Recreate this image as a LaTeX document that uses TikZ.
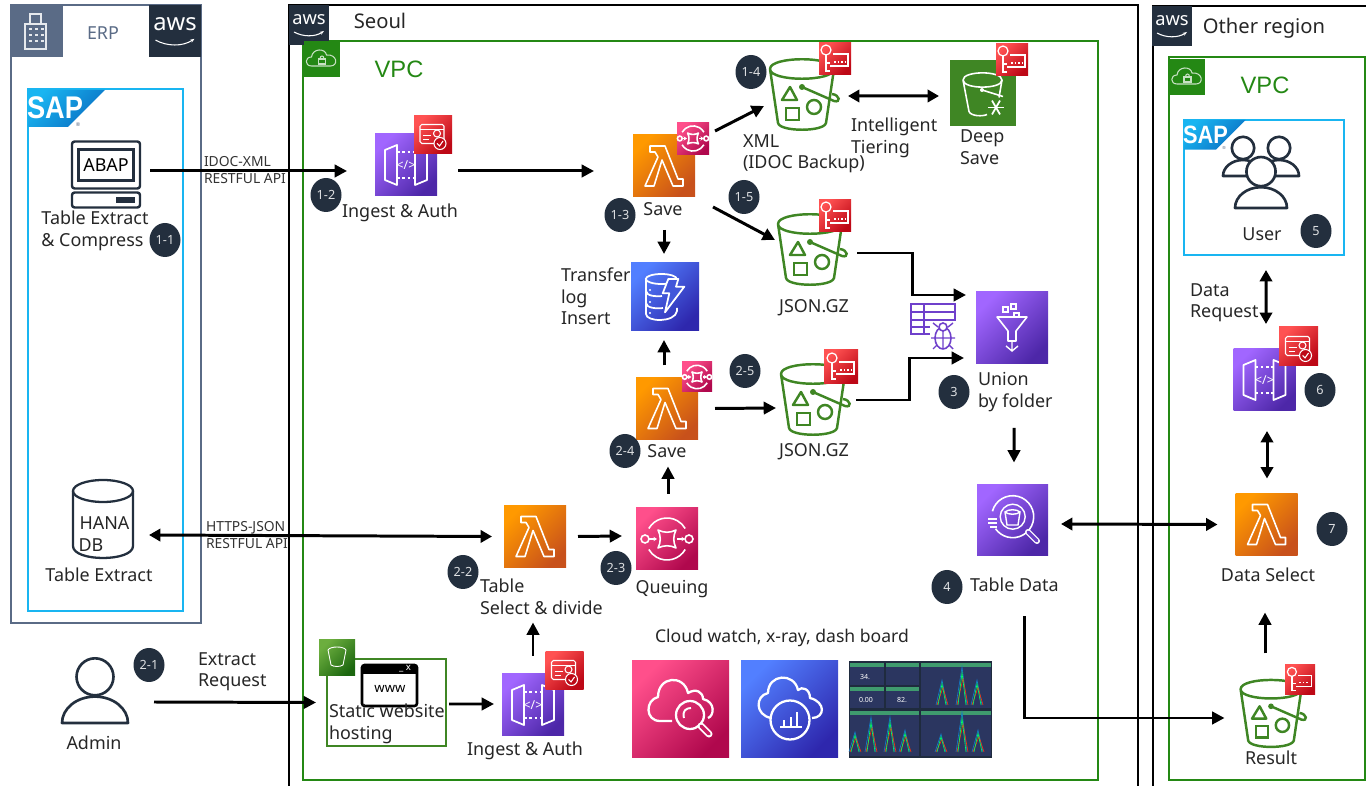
\documentclass[tikz,border=0pt]{standalone}
\usepackage{fontspec}
\setmainfont{Noto Sans}
\newfontfamily\arialfont{Liberation Sans}
\usetikzlibrary{arrows.meta,shapes.geometric}

\definecolor{ink}{HTML}{232F3E}
\definecolor{slate}{HTML}{5A6B86}
\definecolor{sapblue}{HTML}{19B5F1}
\definecolor{sapdark}{HTML}{0A6FC2}
\definecolor{vpcgreen}{HTML}{248814}
\definecolor{s3green}{HTML}{3F8624}
\definecolor{txtgrey}{HTML}{333333}
\definecolor{lamdark}{HTML}{C8511B}
\definecolor{lamlight}{HTML}{FF9900}
\definecolor{purpdark}{HTML}{4D27A8}
\definecolor{purplight}{HTML}{A166FF}
\definecolor{pinkdark}{HTML}{B0084D}
\definecolor{pinklight}{HTML}{FF4F8B}
\definecolor{bluedark}{HTML}{2E27AD}
\definecolor{bluelight}{HTML}{527FFF}
\definecolor{reddark}{HTML}{BD0816}
\definecolor{redlight}{HTML}{FF5252}
\definecolor{grdark}{HTML}{1B660F}
\definecolor{grlight}{HTML}{6CAE3E}
\definecolor{dashbg}{HTML}{1F2B3E}
\definecolor{dashpanel}{HTML}{2B3660}
\definecolor{dashhead}{HTML}{3F9B6E}

\tikzset{
	iconsize/.style={minimum size=#1*0.02cm, inner sep=0, outer sep=0},
	lambdabox/.style={iconsize=62, bottom color=lamdark, top color=lamlight, shading angle=45, draw=none},
	purplebox/.style={iconsize=62, bottom color=purpdark, top color=purplight, shading angle=45, draw=none},
	pinkbox/.style={iconsize=62, bottom color=pinkdark, top color=pinklight, shading angle=45, draw=none},
	bluebox/.style={iconsize=62, bottom color=bluedark, top color=bluelight, shading angle=45, draw=none},
	redbox/.style={iconsize=34, bottom color=reddark, top color=redlight, shading angle=45, draw=none},
	greenbox/.style={iconsize=36, fill=vpcgreen, draw=none},
	awsbox/.style={iconsize=40, fill=ink, draw=none},
	ghost/.style={iconsize=68, draw=none},
	lbl/.style={font=\fontsize{10.2}{12.5}\selectfont, inner sep=0, outer sep=0, text=black!85, align=left, yshift=-1pt},
	biglbl/.style={lbl, font=\fontsize{11.5}{13}\selectfont},
	smalllbl/.style={font=\fontsize{7.9}{9.6}\selectfont, inner sep=0, outer sep=0, text=txtgrey, align=left, anchor=west},
	vpclbl/.style={font=\arialfont\fontsize{13.5}{15}\selectfont, inner sep=0, outer sep=0, text=vpcgreen},
	badge/.style={ellipse, fill=ink, text=white!85!ink, minimum width=31*0.02cm, minimum height=34*0.02cm,
		inner sep=0, outer sep=0, font=\fontsize{7.2}{8}\selectfont},
	arrow/.style={line width=1.7pt, -{Triangle[length=7pt,width=7pt]}},
	dblarrow/.style={line width=1.7pt, {Triangle[length=6.5pt,width=7pt]}-{Triangle[length=6.5pt,width=7pt]}},
	lambdaglyph/.pic={
		\draw[white, line width=.9pt, line join=round] (-14,-20) -- (1,-20) -- (14,13) -- (19,13) -- (19,20) -- (9,20)
			-- (-2,-6) -- (-10,20) -- (-19,20) -- (-6,-9) -- (-9,-14) -- (-14,-14) -- cycle;
	},
	apiglyph/.pic={
		\draw[white, line width=1pt, line join=round] (-21,-15) -- (-9,-20) -- (-9,20) -- (-21,15) -- cycle;
		\draw[white, line width=1pt, line join=round] (21,-15) -- (9,-20) -- (9,20) -- (21,15) -- cycle;
		\draw[white, line width=.9pt, dash pattern=on 1.5pt off 1.5pt] (-9,-13) -- (9,-13) (-9,13) -- (9,13);
		\node[text=white, font=\bfseries\fontsize{7}{7}\selectfont, inner sep=0] at (0,0) {</>};
	},
	dynamoglyph/.pic={
		\draw[white, line width=1pt] (-3.7,-18) ellipse[x radius=15.5, y radius=5];
		\draw[white, line width=1pt] (-19,-18) -- (-19,17) .. controls (-19,25) and (10,26) .. (12,14) -- (12,11);
		\draw[white, line width=1pt] (-19,-6) .. controls (-19,-1) and (-8,0) .. (-3,-1);
		\draw[white, line width=1pt] (-19,6) .. controls (-19,11) and (-8,12) .. (-2,11);
		\fill[white] (-15,-7) circle[radius=1.2] (-15,5) circle[radius=1.2] (-15,16) circle[radius=1.2];
		\draw[white, line width=1pt, fill=bluedark!45!bluelight, line join=round] (3.3,-18) -- (13.3,-18) -- (11,-10.3) -- (19.3,-10.3)
			-- (0,15.3) -- (4.3,-3.7) -- (-2.3,-3.7) -- cycle;
	},
	sqsglyph/.pic={
		\draw[white, line width=.9pt] (-150:21) arc[start angle=-150, end angle=-30, radius=21];
		\draw[white, line width=.9pt] (30:21) arc[start angle=30, end angle=150, radius=21];
		\draw[white, line width=.9pt, line join=round] (-9,-9) .. controls (-3,-6) and (3,-6) .. (9,-9)
			.. controls (6,-3) and (6,3) .. (9,9) .. controls (3,6) and (-3,6) .. (-9,9)
			.. controls (-6,3) and (-6,-3) .. (-9,-9) -- cycle;
		\draw[white, line width=.9pt] (-22,0) circle[radius=4] (22,0) circle[radius=4];
		\draw[white, line width=.8pt, -{Stealth[length=2pt,width=2.5pt]}] (-18,0) -- (-10,0);
		\draw[white, line width=.8pt, -{Stealth[length=2pt,width=2.5pt]}] (10,0) -- (18,0);
	},
	bucketglyph/.pic={
		\draw[s3green, line width=1.4pt, line join=round] (-32,-24) .. controls (-32,-11) and (32,-11) .. (32,-24)
			.. controls (32,-37) and (-32,-37) .. (-32,-24) -- (-24,30) .. controls (-22,39) and (22,39) .. (24,30) -- (32,-24);
		\draw[s3green, line width=1.4pt] (0,-6) -- (32,8) .. controls (39,10) and (38,2) .. (30,1);
		\fill[s3green] (0,-6) circle[radius=3];
		\draw[s3green, line width=1.4pt, line join=round] (-12,-6) -- (-20,7) -- (-5,7) -- cycle;
		\draw[s3green, line width=1.4pt] (-16,15) rectangle (-3,27);
		\draw[s3green, line width=1.4pt] (12,14) circle[radius=7];
	},
	glacierglyph/.pic={
		\draw[white, line width=.9pt, line join=round] (-20,-13.5) .. controls (-20,-4) and (19,-4) .. (19,-13.5)
			.. controls (19,-23) and (-20,-23) .. (-20,-13.5) -- (-14,18) .. controls (-12,23) and (0,23) .. (4,21);
		\draw[white, line width=.9pt] (19,-13.5) -- (16,4);
		\draw[white, line width=.9pt] (-1,-3.5) -- (20,3);
		\fill[white] (-1,-3.5) circle[radius=2];
		\foreach \ang in {0,60,120} {
			\draw[white, line width=1pt] (13,14) ++(\ang:8) -- ++(\ang+180:16);
		}
	},
	cardglyph/.pic={
		\draw[white, line width=.6pt, rounded corners=1] (-13,-10) rectangle (11,9);
		\draw[white, line width=.6pt] (-13,-5) -- (11,-5);
		\draw[white, line width=.6pt] (-10,1) -- (-2,1) (-10,5) -- (-4,5);
		\draw[white, line width=.6pt] (4,-1) circle[radius=3.5];
		\draw[white, line width=.6pt, fill=reddark] (7,9) circle[radius=6];
		\draw[white, line width=.6pt] (4,9) -- (6.5,11.5) -- (10,6.5);
	},
	keyglyph/.pic={
		\draw[white, line width=.6pt] (-2,-5) -- (13,-5) -- (13,7) -- (-5,7);
		\draw[white, line width=.7pt] (-9,-9) circle[radius=5];
		\draw[white, line width=.7pt] (-9,-4) -- (-9,12) -- (-5,12) (-9,4) -- (-5,4);
		\draw[white, line width=.6pt, dash pattern=on 1pt off 1pt] (-1,3) -- (10,3);
	},
	awsglyph/.pic={
		\node[text=white, font=\fontsize{10.4}{11}\selectfont, inner sep=0, transform shape] at (0,-5) {aws};
		\draw[white, line width=.6pt, -{Stealth[length=2.5pt]}] (-15,7) .. controls (-6,12) and (6,12) .. (15,6);
	},
	vpcglyph/.pic={
		\draw[white!75!vpcgreen, line width=.6pt, line join=round] (-10,7) .. controls (-17,7) and (-17,-2) .. (-10,-2)
			.. controls (-9,-11) and (4,-11) .. (5,-4) .. controls (16,-5) and (17,7) .. (9,7) -- cycle;
		\draw[white!75!vpcgreen, line width=.6pt] (-3,0) rectangle (4,5);
		\draw[white!75!vpcgreen, line width=.6pt] (-1.5,0) .. controls (-1.5,-4) and (2.5,-4) .. (2.5,0);
	},
	saplogo/.pic={
		\shade[bottom color=sapdark, top color=sapblue, shading angle=45] (0,0) -- (77,0) -- (40,37) -- (0,37) -- cycle;
		\node[text=white, font=\arialfont\bfseries\fontsize{15.5}{16}\selectfont, inner sep=0, yscale=1.15, transform shape] at (27,18) {SAP};
		\node[text=slate, font=\fontsize{3}{3}\selectfont, inner sep=0, transform shape] at (50,35) {®};
	},
	personglyph/.pic={
		\draw[ink, line width=1.5pt, fill=white, line join=round] (-#1,#1) arc[start angle=180, end angle=360, x radius=#1, y radius=.8*#1] -- cycle;
		\draw[ink, line width=1.5pt, fill=white] (0,-.4*#1) circle[radius=.56*#1];
	},
}

\begin{document}
\begin{tikzpicture}[x=0.02cm, y=-0.02cm]
	\useasboundingbox (0,0) rectangle (1366,786);

	% Regions
	\node[draw=slate, line width=1.2pt, minimum width=190*0.02cm, minimum height=618*0.02cm, inner sep=0, outer sep=0] (erpBox) at (106,314) {};
	\node[draw=sapblue, line width=1.2pt, minimum width=155*0.02cm, minimum height=522*0.02cm, inner sep=0, outer sep=0] (sapBox) at (105.5,350) {};
	\draw[black, line width=1.2pt] (289,786) -- (289,5) -- (1138,5) -- (1138,786);
	\draw[black, line width=1.2pt] (1366,6) -- (1153,6) -- (1153,786);
	\node[draw=vpcgreen, line width=1.2pt, minimum width=795*0.02cm, minimum height=739*0.02cm, inner sep=0, outer sep=0] (vpcSeoul) at (700.5,410.5) {};
	\node[draw=vpcgreen, line width=1.2pt, minimum width=196*0.02cm, minimum height=723*0.02cm, inner sep=0, outer sep=0] (vpcOther) at (1267,418.5) {};
	\node[draw=sapblue, line width=1.2pt, minimum width=160*0.02cm, minimum height=135*0.02cm, inner sep=0, outer sep=0] (sapUser) at (1264,187.5) {};

	% Corner tags
	\node[iconsize=52, fill=slate] (erpTag) at (36.5,31) {};
	\draw[white!85!slate, line width=.6pt] (25,49) rectangle (46,24) (30,24) -- (30,14) -- (41,14) -- (41,24);
	\foreach \yy in {29,35,41} { \draw[white!85!slate, line width=.9pt, dash pattern=on 1.5pt off 2pt] (29,\yy) -- (44,\yy); }
	\node[lbl, text=slate] (erpLbl) at (103,31.5) {ERP};
	\node[awsbox, iconsize=52] (awsErp) at (175,31) {};
	\pic[scale=1.3] at (awsErp) {awsglyph};
	\node[awsbox] (awsSeoul) at (309,25) {};
	\pic at (awsSeoul) {awsglyph};
	\node[biglbl] (seoulLbl) at (380,19) {Seoul};
	\node[awsbox] (awsOther) at (1172,26) {};
	\pic at (awsOther) {awsglyph};
	\node[biglbl] (otherLbl) at (1264,26) {Other region};
	\node[greenbox] (vpcTagA) at (321.5,59) {};
	\pic at (vpcTagA) {vpcglyph};
	\node[vpclbl] (vpcLblA) at (399,69) {VPC};
	\node[greenbox] (vpcTagB) at (1187,77) {};
	\pic at (vpcTagB) {vpcglyph};
	\node[vpclbl] (vpcLblB) at (1265,85) {VPC};
	\pic at (28,90) {saplogo};
	\pic[scale=.8] at (1184,120) {saplogo};

	% ERP side
	\node[draw=ink, line width=1.4pt, rounded corners=1.5pt, minimum width=68*0.02cm, minimum height=47*0.02cm, inner sep=0, outer sep=0] (abapMon) at (106,165) {};
	\node[draw=ink, line width=1.2pt, minimum width=55*0.02cm, minimum height=31*0.02cm, inner sep=0, outer sep=0, font=\fontsize{10.2}{11}\selectfont] (abapTxt) at (106,165) {ABAP};
	\node[draw=ink, line width=1.4pt, rounded corners=1.5pt, minimum width=68*0.02cm, minimum height=15*0.02cm, inner sep=0, outer sep=0] (abapBase) at (106,200) {};
	\fill[ink] (116,197) rectangle (135,203);
	\node[lbl] (abapLbl) at (95,229) {Table Extract\\\& Compress};
	\node[minimum width=60*0.02cm, minimum height=78*0.02cm, inner sep=0, outer sep=0] (hana) at (103,519) {};
	\draw[ink, line width=1.3pt] (103,491) ellipse[x radius=30, y radius=11];
	\draw[ink, line width=1.3pt] (73,491) -- (73,546) .. controls (73,562) and (133,562) .. (133,546) -- (133,491);
	\node[lbl] (hanaTxt) at (104.5,521) {HANA};
	\node[lbl] (dbTxt) at (91,543.5) {DB};
	\node[lbl] (hanaLbl) at (99,573.5) {Table Extract};
	\node[ghost] (admin) at (95,690) {};
	\pic[scale=1] at (95,690) {personglyph=33};
	\node[lbl] (adminLbl) at (94,741.5) {Admin};
	\node[smalllbl] (idocLbl) at (204,170) {IDOC-XML\\RESTFUL API};
	\node[smalllbl] (httpsLbl) at (206,535) {HTTPS-JSON\\RESTFUL API};
	\node[lbl, anchor=west] (extractLbl) at (198,670) {Extract\\Request};

	% Seoul, line 1
	\node[purplebox] (ingestA) at (406,165) {};
	\pic at (ingestA) {apiglyph};
	\node[redbox, iconsize=38] (ingestAuth) at (433,134.5) {};
	\pic at (ingestAuth) {cardglyph};
	\node[lbl] (ingestALbl) at (400,211) {Ingest \& Auth};
	\node[lambdabox] (saveA) at (664,166) {};
	\pic at (saveA) {lambdaglyph};
	\node[pinkbox, iconsize=32] (saveAq) at (693,138.5) {};
	\pic[scale=.6] at (saveAq) {sqsglyph};
	\node[lbl] (saveALbl) at (663,207) {Save};
	\node[bluebox, iconsize=68] (dynamo) at (665,297) {};
	\pic at (dynamo) {dynamoglyph};
	\node[lbl, anchor=west] (dynamoLbl) at (561,294.5) {Transfer\\log\\Insert};
	\node[ghost] (bkXml) at (802,93) {};
	\pic at (bkXml) {bucketglyph};
	\node[redbox, iconsize=32] (keyXml) at (835,59) {};
	\pic at (keyXml) {keyglyph};
	\node[lbl, anchor=west] (xmlLbl) at (743,152) {XML\\(IDOC Backup)};
	\node[lbl, anchor=west] (tierLbl) at (851,136) {Intelligent\\Tiering};
	\node[iconsize=66, fill=s3green] (glacier) at (983,93.5) {};
	\pic at (glacier) {glacierglyph};
	\node[redbox, iconsize=32] (keyDeep) at (1012,60) {};
	\pic at (keyDeep) {keyglyph};
	\node[lbl, anchor=west] (deepLbl) at (960,145.5) {Deep\\Save};
	\node[ghost] (bkJsonA) at (810,248) {};
	\pic at (bkJsonA) {bucketglyph};
	\node[redbox, iconsize=32] (keyJsonA) at (835,216) {};
	\pic at (keyJsonA) {keyglyph};
	\node[lbl] (jsonALbl) at (814,306) {JSON.GZ};

	% Seoul, line 2
	\node[lambdabox] (saveB) at (667,408.5) {};
	\pic at (saveB) {lambdaglyph};
	\node[pinkbox, iconsize=30] (saveBq) at (697,377) {};
	\pic[scale=.56] at (saveBq) {sqsglyph};
	\node[lbl] (saveBLbl) at (667,449.5) {Save};
	\node[ghost] (bkJsonB) at (813,398) {};
	\pic at (bkJsonB) {bucketglyph};
	\node[redbox] (keyJsonB) at (841,367) {};
	\pic at (keyJsonB) {keyglyph};
	\node[lbl] (jsonBLbl) at (814,450) {JSON.GZ};
	\node[pinkbox] (sqs) at (667,539) {};
	\pic at (sqs) {sqsglyph};
	\node[lbl] (sqsLbl) at (672,587) {Queuing};
	\node[lambdabox] (tableLam) at (535,536.5) {};
	\pic at (tableLam) {lambdaglyph};
	\node[lbl, anchor=west] (tableLbl) at (480,595) {Table\\Select \& divide};
	\node[purplebox] (ingestB) at (533,705) {};
	\pic at (ingestB) {apiglyph};
	\node[redbox, iconsize=38] (ingestBAuth) at (564.5,670.5) {};
	\pic at (ingestBAuth) {cardglyph};
	\node[lbl] (ingestBLbl) at (525,749) {Ingest \& Auth};
	\node[draw=s3green, line width=1.2pt, minimum width=119*0.02cm, minimum height=87*0.02cm, inner sep=0, outer sep=0] (webBox) at (386.5,702.5) {};
	\node[iconsize=36, bottom color=grdark, top color=grlight, shading angle=45] (webTag) at (337,658) {};
	\draw[white, line width=.5pt] (328,650) .. controls (330,646) and (344,646) .. (346,650) -- (343,665) .. controls (340,667) and (334,667) .. (331,665) -- cycle;
	\node[draw=black, fill=white, line width=1.5pt, rounded corners=1.5pt, minimum width=55*0.02cm, minimum height=41*0.02cm, inner sep=0, outer sep=0] (wwwBox) at (389.5,685.5) {};
	\fill[black] (362,665) rectangle (417,674);
	\node[text=white, font=\bfseries\fontsize{5.5}{5.5}\selectfont, inner sep=0] (wwwClose) at (405,669) {\_ x};
	\node[font=\bfseries\fontsize{7.5}{8}\selectfont, inner sep=0] (wwwTxt) at (390,689) {www};
	\node[lbl, anchor=west] (webLbl) at (329,722) {Static website\\hosting};

	% Union and table data
	\node[purplebox, iconsize=72] (glue) at (1012,328) {};
	\draw[white, line width=.9pt, line join=round] (997,317) -- (1027,317) -- (1016,331) -- (1016,341) -- (1008,341) -- (1008,331) -- cycle;
	\draw[white, line width=.8pt] (1012,341) -- (1012,351) (1006,346) -- (1012,351) -- (1018,346);
	\draw[white, line width=.7pt] (1003,307) rectangle (1008,312) (1011,304) rectangle (1016,309) (1014,313) rectangle (1019,317);
	\node[lbl, anchor=west] (glueLbl) at (978,390) {Union\\by folder};
	\node[iconsize=46] (crawler) at (934,327) {};
	\draw[purpdark!60!purplight, line width=.8pt] (911,304) rectangle (955,312) (911,304) -- (911,334) -- (930,334) (911,320) -- (955,320) -- (955,312) (911,327) -- (930,327) (924,304) -- (924,334);
	\draw[purpdark!60!purplight, line width=.9pt, fill=white] (943,338) ellipse[x radius=8, y radius=11];
	\draw[purpdark!60!purplight, line width=.9pt, fill=white] (943,327) circle[radius=4];
	\draw[purpdark!60!purplight, line width=.8pt] (943,331) -- (943,349) (933,323) -- (938,327) (953,323) -- (948,327) (931,338) -- (955,338) (933,349) -- (937,345) (953,349) -- (949,345);
	\node[purplebox, iconsize=71] (athena) at (1012.5,520) {};
	\draw[white, line width=.9pt] (1012.7,516.7) ++(-165:21) arc[start angle=-165, end angle=145, radius=21];
	\draw[white, line width=.8pt] (1012.7,516.7) circle[radius=12.5];
	\draw[white, line width=.8pt] (1005,512) .. controls (1008,509) and (1017,509) .. (1020,512) -- (1018,525) -- (1007,525) -- cycle (1005,512) .. controls (1008,515) and (1017,515) .. (1020,512);
	\draw[white, line width=.7pt] (988,519) -- (997,519) (988,523) -- (997,523) (990,527) -- (997,527);
	\draw[white, line width=3.4pt, line cap=round] (1028,532) -- (1037,541);
	\draw[purpdark!65!purplight, line width=1.9pt, line cap=round] (1028,532) -- (1037,541);
	\node[lbl, anchor=west] (athenaLbl) at (970,583.5) {Table Data};

	% Cloud watch row
	\node[lbl, font=\fontsize{10}{12.5}\selectfont] (watchLbl) at (782,636) {Cloud watch, x-ray, dash board};
	\node[pinkbox, iconsize=97] (watch) at (680.5,709) {};
	\draw[white, line width=1.3pt, line join=round] (672,721) -- (660,721) .. controls (645,721) and (645,700) .. (658,697)
		.. controls (658,676) and (684,674) .. (688,693) .. controls (696,688) and (703,692) .. (703,699) .. controls (716,702) and (714,716) .. (708,718);
	\draw[white, line width=1.3pt] (690,715) circle[radius=14];
	\draw[white, line width=1.1pt] (684,718) .. controls (682,711) and (686,708) .. (691,708);
	\draw[white, line width=4pt, line cap=round] (701,726) -- (709,734);
	\draw[pinkdark!70!pinklight, line width=2pt, line cap=round] (701,726) -- (709,734);
	\node[bluebox, iconsize=97] (xray) at (789.5,709) {};
	\draw[white, line width=1.3pt, line join=round] (771,718) .. controls (755,715) and (755,696) .. (768,693)
		.. controls (768,674) and (794,672) .. (798,690) .. controls (802,686) and (810,689) .. (810,698) .. controls (826,702) and (825,718) .. (812,718);
	\draw[white, line width=1.3pt] (790,720) circle[radius=19.5];
	\draw[white, line width=1.2pt] (780,727) -- (802,727) (784,727) -- (784,720) (791,727) -- (791,717) (797,727) -- (797,712);
	\node[draw=none, fill=dashbg, minimum width=143*0.02cm, minimum height=97*0.02cm, inner sep=0, outer sep=0] (dash) at (920.5,709.5) {};
	\foreach \xa/\ya/\xb/\yb in {850/663/884/685, 886/663/919/685, 850/687/884/708, 886/687/919/708, 921/663/991/708, 850/711/919/756, 921/711/991/756} {
		\fill[dashpanel] (\xa,\ya) rectangle (\xb,\yb);
		\fill[dashhead] (\xa,\ya) rectangle (\xb,\ya+4.5);
	}
	\foreach \xx/\yy/\val in {865/677/34., 866/700/0.00, 902/700/82.} {
		\node[text=white, font=\bfseries\fontsize{4}{4}\selectfont, inner sep=0] at (\xx,\yy) {\val};
	}
	\foreach \px/\ph/\bs in {942/25/705, 962/38/705, 977/25/705, 855/20/752, 871/35/752, 890/35/752, 905/22/752, 941/18/752, 962/40/752, 978/22/752} {
		\draw[cyan!60!blue, line width=.35pt] (\px-6,\bs) -- (\px,\bs-\ph) -- (\px+5,\bs);
		\draw[red!60!orange, line width=.35pt] (\px-5,\bs) -- (\px+1,\bs-.7*\ph) -- (\px+6,\bs);
		\draw[green!60!cyan, line width=.35pt] (\px-4,\bs) -- (\px,\bs-.85*\ph) -- (\px+4,\bs);
	}

	% Other region
	\node[iconsize=60] (users) at (1260,180) {};
	\pic at (1243,156) {personglyph=20};
	\pic at (1279,156) {personglyph=20};
	\pic at (1261,182) {personglyph=26};
	\node[lbl] (usersLbl) at (1262,232) {User};
	\node[lbl, anchor=west] (dataReqLbl) at (1190,301) {Data\\Request};
	\node[purplebox] (apiC) at (1264.5,380) {};
	\pic at (apiC) {apiglyph};
	\node[redbox, iconsize=39] (apiCAuth) at (1298.5,346.5) {};
	\pic at (apiCAuth) {cardglyph};
	\node[lambdabox] (lamC) at (1266.5,524.5) {};
	\pic at (lamC) {lambdaglyph};
	\node[lbl] (lamCLbl) at (1268,573) {Data Select};
	\node[ghost, iconsize=65] (bkResult) at (1271,712) {};
	\pic[scale=.95] at (bkResult) {bucketglyph};
	\node[redbox, iconsize=30] (keyResult) at (1300,680) {};
	\pic[scale=.9] at (keyResult) {keyglyph};
	\node[lbl] (resultLbl) at (1271,756.5) {Result};

	% Badges
	\node[badge] (b11) at (165,240) {1-1};
	\node[badge] (b12) at (326,195) {1-2};
	\node[badge] (b13) at (620,215) {1-3};
	\node[badge] (b14) at (751,72) {1-4};
	\node[badge] (b15) at (744,197) {1-5};
	\node[badge] (b21) at (149,665) {2-1};
	\node[badge] (b22) at (463,572) {2-2};
	\node[badge] (b23) at (616,568) {2-3};
	\node[badge] (b24) at (625,451) {2-4};
	\node[badge] (b25) at (745,371) {2-5};
	\node[badge] (b3) at (954,392) {3};
	\node[badge] (b4) at (947,587) {4};
	\node[badge] (b5) at (1316,231) {5};
	\node[badge] (b6) at (1320,390) {6};
	\node[badge] (b7) at (1332,529) {7};

	% Arrows
	\draw[arrow] ([shift={(10,6)}]abapMon.east) -- ([shift={(-28,6)}]ingestA.west);
	\draw[arrow] ([shift={(21,6)}]ingestA.east) -- ([shift={(-39,5)}]saveA.west);
	\draw[arrow] ([shift={(0,33)}]saveA.south) -- ([shift={(-1,-9)}]dynamo.north);
	\draw[arrow] ([shift={(-3,-12)}]saveB.north) -- ([shift={(-1,9)}]dynamo.south);
	\draw[arrow] ([shift={(20,-35)}]saveA.east) -- ([shift={(-4,13)}]bkXml.west);
	\draw[arrow] ([shift={(18,41)}]saveA.east) -- ([shift={(-1,-8)}]bkJsonA.west);
	\draw[dblarrow] ([shift={(12,3)}]bkXml.east) -- ([shift={(-11,2.5)}]glacier.west);
	\draw[arrow] ([shift={(17,0)}]saveB.east) -- ([shift={(-3,10)}]bkJsonB.west);
	\draw[arrow] ([shift={(13,5)}]bkJsonA.east) -- ++(55,0) |- ([shift={(-10,-33)}]glue.west);
	\draw[arrow] ([shift={(9,2)}]bkJsonB.east) -- ++(53,0) |- ([shift={(-12,30)}]glue.west);
	\draw[arrow] ([shift={(2,64)}]glue.south) -- ([shift={(1.5,-22)}]athena.north);
	\draw[dblarrow] ([shift={(13,4)}]athena.east) -- ([shift={(-18,0)}]lamC.west);
	\draw[arrow] ([shift={(11.5,61)}]athena.south) |- ([shift={(-14,6)}]bkResult.west);
	\draw[arrow] ([shift={(-6,-26)}]bkResult.north) -- ([shift={(-1.5,57)}]lamC.south);
	\draw[dblarrow] ([shift={(.5,-15)}]lamC.north) -- ([shift={(2.5,20)}]apiC.south);
	\draw[dblarrow] ([shift={(1.5,-25)}]apiC.north) -- ([shift={(2,15)}]sapUser.south);
	\draw[arrow] ([shift={(12,0)}]tableLam.east) -- ([shift={(-14,-3)}]sqs.west);
	\draw[arrow] ([shift={(1,-14)}]sqs.north) -- ([shift={(1,27)}]saveB.south);
	\draw[dblarrow] ([shift={(16,16)}]hana.east) -- ([shift={(-12,0)}]tableLam.west);
	\draw[arrow] ([shift={(0,-18)}]ingestB.north) -- ([shift={(-2,55)}]tableLam.south);
	\draw[arrow] ([shift={(3,1.5)}]webBox.east) -- ([shift={(-8,-1)}]ingestB.west);
	\draw[arrow] ([shift={(25,12)}]admin.east) -- ([shift={(-11,0)}]webBox.west);
\end{tikzpicture}
\end{document}
